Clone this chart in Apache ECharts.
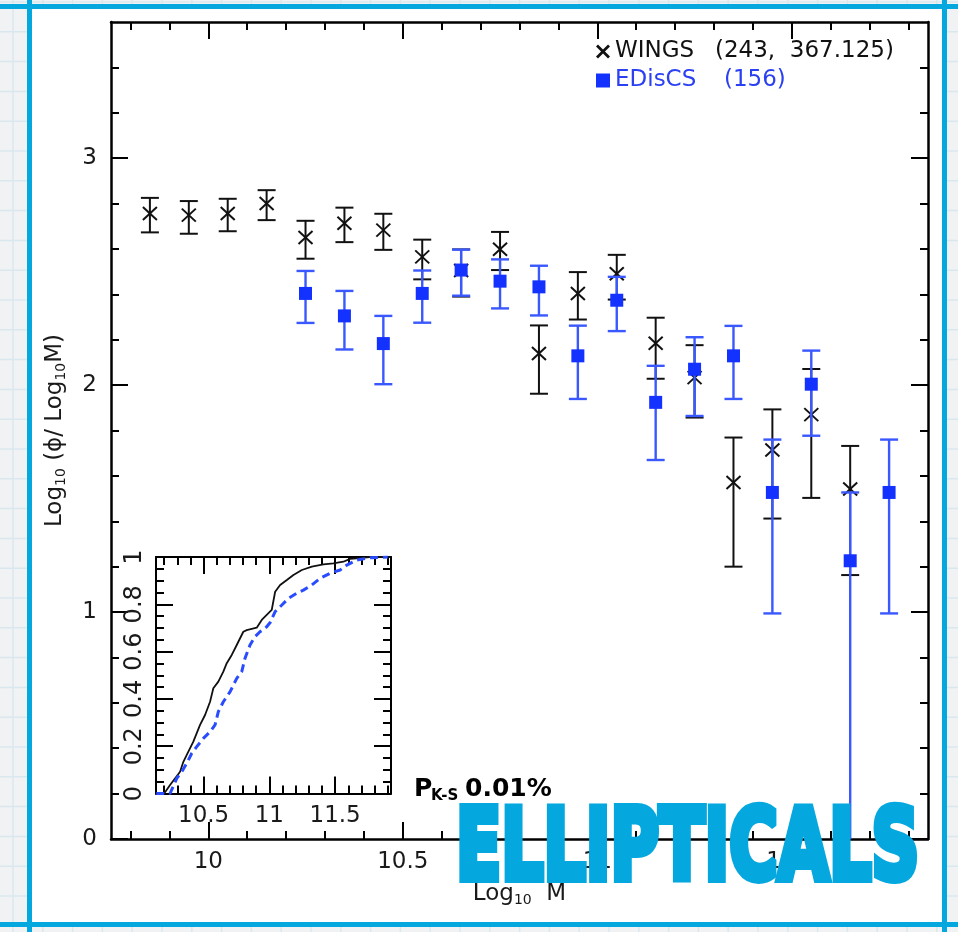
<!DOCTYPE html>
<html><head><meta charset="utf-8">
<script src="https://cdn.jsdelivr.net/npm/echarts@6.0.0/dist/echarts.min.js"></script>
<style>html,body{margin:0;padding:0;background:#fff}#c{width:958px;height:932px}</style>
</head><body><div id="c"></div>
<script>
// ---------------- DATA ----------------
const massBins = [9.85, 9.95, 10.05, 10.15, 10.25, 10.35, 10.45, 10.55, 10.65, 10.75, 10.85, 10.95, 11.05, 11.15, 11.25, 11.35, 11.45, 11.55, 11.65, 11.75];
const wingsPhi = [2.756, 2.749, 2.756, 2.800, 2.650, 2.713, 2.683, 2.565, 2.505, 2.599, 2.139, 2.404, 2.491, 2.184, 2.033, 1.571, 1.714, 1.870, 1.542, null];
const wingsLo  = [2.673, 2.667, 2.678, 2.727, 2.557, 2.630, 2.596, 2.466, 2.390, 2.507, 1.962, 2.289, 2.377, 2.028, 1.857, 1.200, 1.412, 1.503, 1.163, null];
const wingsHi  = [2.825, 2.811, 2.821, 2.859, 2.724, 2.782, 2.755, 2.641, 2.598, 2.675, 2.263, 2.498, 2.574, 2.297, 2.176, 1.769, 1.893, 2.071, 1.732, null];
const edisPhi  = [null, null, null, null, 2.404, 2.305, 2.183, 2.404, 2.507, 2.458, 2.433, 2.129, 2.374, 1.924, 2.070, 2.129, 1.527, 2.004, 1.226, 1.527];
const edisLo   = [null, null, null, null, 2.274, 2.157, 2.004, 2.275, 2.394, 2.338, 2.307, 1.939, 2.238, 1.670, 1.864, 1.939, 0.994, 1.777, null, 0.994];
const edisHi   = [null, null, null, null, 2.503, 2.415, 2.305, 2.505, 2.597, 2.554, 2.526, 2.262, 2.477, 2.085, 2.211, 2.261, 1.760, 2.152, 1.527, 1.760];

// cumulative distributions (inset)
const cdfWingsMass = [10.200, 10.245, 10.321, 10.346, 10.384, 10.422, 10.473, 10.511, 10.549, 10.574, 10.612, 10.650, 10.676, 10.714, 10.752, 10.802, 10.828, 10.904, 10.942, 10.980, 11.018, 11.044, 11.082, 11.133, 11.183, 11.247, 11.323, 11.411, 11.487, 11.563, 11.614, 11.690, 11.760, 11.920];
const cdfWingsFrac = [0.000, 0.036, 0.092, 0.134, 0.177, 0.219, 0.290, 0.332, 0.388, 0.445, 0.473, 0.515, 0.551, 0.586, 0.628, 0.684, 0.691, 0.701, 0.734, 0.755, 0.776, 0.853, 0.882, 0.903, 0.924, 0.945, 0.959, 0.969, 0.973, 0.980, 0.992, 0.995, 1.000, 1.000];
const cdfEdisMass  = [10.140, 10.245, 10.257, 10.296, 10.334, 10.372, 10.410, 10.448, 10.498, 10.549, 10.587, 10.612, 10.650, 10.701, 10.752, 10.790, 10.815, 10.853, 10.891, 10.929, 10.980, 11.006, 11.044, 11.095, 11.145, 11.209, 11.259, 11.323, 11.386, 11.462, 11.538, 11.589, 11.665, 11.766, 11.900];
const cdfEdisFrac  = [0.000, 0.000, 0.015, 0.064, 0.092, 0.128, 0.170, 0.198, 0.233, 0.261, 0.290, 0.346, 0.388, 0.430, 0.487, 0.515, 0.572, 0.628, 0.663, 0.684, 0.705, 0.723, 0.769, 0.797, 0.825, 0.847, 0.860, 0.882, 0.910, 0.931, 0.945, 0.966, 0.987, 0.997, 1.000];

// axes / ticks
const xRange = [9.75, 11.85];
const yRange = [0, 3.6];
const xMajor = [10, 10.5, 11, 11.5];
const xMinor = [9.8, 9.9, 10.1, 10.2, 10.3, 10.4, 10.6, 10.7, 10.8, 10.9, 11.1, 11.2, 11.3, 11.4, 11.6, 11.7, 11.8];
const yMajor = [0, 1, 2, 3];
const yMinor = [0.2, 0.4, 0.6, 0.8, 1.2, 1.4, 1.6, 1.8, 2.2, 2.4, 2.6, 2.8, 3.2, 3.4];
const insetXRange = [10.138, 11.925];
const insetYRange = [0, 1];
const insetXMajor = [10.5, 11, 11.5];
const insetXMinor = [10.2, 10.3, 10.4, 10.6, 10.7, 10.8, 10.9, 11.1, 11.2, 11.3, 11.4, 11.6, 11.7, 11.8, 11.9];
const insetYMajor = [0, 0.2, 0.4, 0.6, 0.8, 1];
const insetYMinor = [0.05, 0.1, 0.15, 0.25, 0.3, 0.35, 0.45, 0.5, 0.55, 0.65, 0.7, 0.75, 0.85, 0.9, 0.95];

const seriesNames = ['WINGS', 'EDisCS'];
const seriesCounts = ['(243,  367.125)', '(156)'];
const ksLabel = ['P', 'K-S', '0.01%'];
const stampText = 'ELLIPTICALS';

// ---------------- STYLE ----------------
const FONT = 'DejaVu Sans';
const BLACK = '#111111';
const BLUE_SQ = '#1432ff';
const BLUE_BAR = '#3a58ff';
const CYAN = '#05a7df';

function rows(phi, lo, hi) {
  const out = [];
  massBins.forEach((m, i) => { if (phi[i] != null) out.push([m, phi[i], lo[i] == null ? NaN : lo[i], hi[i]]); });
  return out;
}

function errRender(kind) {
  return function (params, api) {
    const x = api.value(0), v = api.value(1), lo = api.value(2), hi = api.value(3);
    const c = api.coord([x, v]);
    const hasLo = !isNaN(lo);
    const pLo = api.coord([x, hasLo ? lo : yRange[0]]);
    const pHi = api.coord([x, hi]);
    const col = kind === 'cross' ? BLACK : BLUE_BAR;
    const lw = kind === 'cross' ? 2 : 2.4;
    const cw = 9;
    const ch = [
      { type: 'line', shape: { x1: c[0], y1: pLo[1], x2: c[0], y2: pHi[1] }, style: { stroke: col, lineWidth: lw } },
      { type: 'line', shape: { x1: c[0] - cw, y1: pHi[1], x2: c[0] + cw, y2: pHi[1] }, style: { stroke: col, lineWidth: lw } }
    ];
    if (hasLo) ch.push({ type: 'line', shape: { x1: c[0] - cw, y1: pLo[1], x2: c[0] + cw, y2: pLo[1] }, style: { stroke: col, lineWidth: lw } });
    if (kind === 'cross') {
      ch.push({ type: 'line', shape: { x1: c[0] - 7, y1: c[1] - 6.5, x2: c[0] + 7, y2: c[1] + 6.5 }, style: { stroke: BLACK, lineWidth: 2 } });
      ch.push({ type: 'line', shape: { x1: c[0] - 7, y1: c[1] + 6.5, x2: c[0] + 7, y2: c[1] - 6.5 }, style: { stroke: BLACK, lineWidth: 2 } });
    } else {
      ch.push({ type: 'rect', shape: { x: c[0] - 6.5, y: c[1] - 6.5, width: 13, height: 13 }, style: { fill: BLUE_SQ } });
    }
    return { type: 'group', children: ch };
  };
}

function mkAxis(o) {
  return {
    type: 'value', gridIndex: o.grid, position: o.pos, min: o.range[0], max: o.range[1],
    axisLine: { show: !!o.line, onZero: false, lineStyle: { color: '#000', width: o.lw || 2.5 } },
    axisTick: { show: true, inside: true, length: o.len, customValues: o.ticks, lineStyle: { color: '#000', width: 2 } },
    axisLabel: o.labels ? Object.assign({ show: true, customValues: o.labels, color: '#1a1a1a', fontFamily: FONT }, o.labelStyle) : { show: false },
    splitLine: { show: false }, minorTick: { show: false }, minorSplitLine: { show: false },
    ...(o.extra || {})
  };
}

const subRich = {
  t: { fontFamily: FONT, fontSize: 23, color: '#1a1a1a', lineHeight: 26 },
  s: { fontFamily: FONT, fontSize: 14, color: '#1a1a1a', lineHeight: 9, verticalAlign: 'bottom' }
};

const xAxes = [
  mkAxis({ grid: 0, pos: 'bottom', range: xRange, line: true, len: 17, ticks: xMajor, labels: xMajor,
    labelStyle: { fontSize: 23, margin: 12 },
    extra: { name: '{t|Log}{s|10}{t|  M}', nameLocation: 'middle', nameGap: 42, nameTextStyle: { fontSize: 23, rich: subRich } } }),
  mkAxis({ grid: 0, pos: 'bottom', range: xRange, line: false, len: 8, ticks: xMinor }),
  mkAxis({ grid: 0, pos: 'top', range: xRange, line: true, len: 17, ticks: xMajor }),
  mkAxis({ grid: 0, pos: 'top', range: xRange, line: false, len: 8, ticks: xMinor }),
  mkAxis({ grid: 1, pos: 'bottom', range: insetXRange, line: true, lw: 2, len: 17, ticks: insetXMajor, labels: insetXMajor,
    labelStyle: { fontSize: 23, margin: 11 } }),
  mkAxis({ grid: 1, pos: 'bottom', range: insetXRange, line: false, len: 8, ticks: insetXMinor }),
  mkAxis({ grid: 1, pos: 'top', range: insetXRange, line: true, lw: 2, len: 17, ticks: insetXMajor }),
  mkAxis({ grid: 1, pos: 'top', range: insetXRange, line: false, len: 8, ticks: insetXMinor })
];
const yAxes = [
  mkAxis({ grid: 0, pos: 'left', range: yRange, line: true, len: 17, ticks: yMajor, labels: yMajor,
    labelStyle: { fontSize: 23, margin: 14 },
    extra: { name: '{t|Log}{s|10}{t| (ϕ/ Log}{s|10}{t|M)}', nameLocation: 'middle', nameGap: 43, nameTextStyle: { fontSize: 23, rich: subRich } } }),
  mkAxis({ grid: 0, pos: 'left', range: yRange, line: false, len: 8, ticks: yMinor }),
  mkAxis({ grid: 0, pos: 'right', range: yRange, line: true, len: 17, ticks: yMajor }),
  mkAxis({ grid: 0, pos: 'right', range: yRange, line: false, len: 8, ticks: yMinor }),
  mkAxis({ grid: 1, pos: 'left', range: insetYRange, line: true, lw: 2, len: 17, ticks: insetYMajor, labels: insetYMajor,
    labelStyle: { fontSize: 24, margin: 9, rotate: 90 } }),
  mkAxis({ grid: 1, pos: 'left', range: insetYRange, line: false, len: 8, ticks: insetYMinor }),
  mkAxis({ grid: 1, pos: 'right', range: insetYRange, line: true, lw: 2, len: 17, ticks: insetYMajor }),
  mkAxis({ grid: 1, pos: 'right', range: insetYRange, line: false, len: 8, ticks: insetYMinor })
];

// ---------------- DECORATION ----------------
const deco = [];
deco.push({ type: 'rect', shape: { x: 0, y: 0, width: 958, height: 932 }, style: { fill: '#f1f2f3' }, z: -100, silent: true });
for (let y = 2; y < 932; y += 29.8) deco.push({ type: 'line', shape: { x1: 0, y1: y, x2: 958, y2: y }, style: { stroke: '#d9e8ef', lineWidth: 1.5 }, z: -99, silent: true });
for (let x = 13; x < 958; x += 29.8) deco.push({ type: 'line', shape: { x1: x, y1: 0, x2: x, y2: 932 }, style: { stroke: '#d9e8ef', lineWidth: 1.5 }, z: -99, silent: true });
deco.push({ type: 'rect', shape: { x: 32, y: 9, width: 910, height: 913 }, style: { fill: '#ffffff' }, z: -98, silent: true });
deco.push({ type: 'rect', shape: { x: 0, y: 4, width: 958, height: 5 }, style: { fill: CYAN }, z: -97, silent: true });
deco.push({ type: 'rect', shape: { x: 0, y: 922, width: 958, height: 5 }, style: { fill: CYAN }, z: -97, silent: true });
deco.push({ type: 'rect', shape: { x: 27, y: 0, width: 5, height: 932 }, style: { fill: CYAN }, z: -97, silent: true });
deco.push({ type: 'rect', shape: { x: 942, y: 0, width: 5, height: 932 }, style: { fill: CYAN }, z: -97, silent: true });
// K-S annotation
deco.push({ type: 'text', x: 414, y: 789.5, z: 50, style: { text: ksLabel[0], font: 'bold 25px "DejaVu Sans"', fill: '#000', verticalAlign: 'middle' } });
deco.push({ type: 'text', x: 431, y: 796, z: 50, style: { text: ksLabel[1], font: 'bold 15px "DejaVu Sans"', fill: '#000', verticalAlign: 'middle' } });
deco.push({ type: 'text', x: 465, y: 789.5, z: 50, style: { text: ksLabel[2], font: 'bold 25px "DejaVu Sans"', fill: '#000', verticalAlign: 'middle' } });
// stamp
deco.push({ type: 'text', x: 456, y: 854, scaleX: 0.677, z: 100, style: { text: stampText, font: 'bold 98px "DejaVu Sans"', fill: CYAN, stroke: CYAN, lineWidth: 8, lineJoin: 'round', verticalAlign: 'middle', align: 'left' } });

const CROSS = 'path://M0,1.4L1.4,0L5,3.6L8.6,0L10,1.4L6.4,5L10,8.6L8.6,10L5,6.4L1.4,10L0,8.6L3.6,5Z';

const chart = echarts.init(document.getElementById('c'), null, { renderer: 'canvas' });
chart.setOption({
  animation: false,
  backgroundColor: 'transparent',
  grid: [
    { left: 111, top: 22, right: 30, bottom: 93, outerBoundsMode: 'none', containLabel: false },
    { left: 156, top: 557, width: 235, height: 236.5, show: true, backgroundColor: '#fff', borderWidth: 0, outerBoundsMode: 'none', containLabel: false }
  ],
  xAxis: xAxes,
  yAxis: yAxes,
  legend: {
    orient: 'vertical', left: 596, top: 40, itemWidth: 14, itemHeight: 14, itemGap: 6, padding: 0,
    selectedMode: false,
    data: [
      { name: seriesNames[0], icon: CROSS, itemStyle: { color: BLACK } },
      { name: seriesNames[1], icon: 'rect', itemStyle: { color: BLUE_SQ } }
    ],
    formatter: function (n) {
      return n === seriesNames[0] ? '{w1|' + n + '}{w2|' + seriesCounts[0] + '}' : '{e1|' + n + '}{e2|' + seriesCounts[1] + '}';
    },
    textStyle: {
      fontFamily: FONT, fontSize: 23,
      rich: {
        w1: { fontFamily: FONT, fontSize: 23, color: BLACK, width: 100 },
        w2: { fontFamily: FONT, fontSize: 23, color: BLACK },
        e1: { fontFamily: FONT, fontSize: 23, color: '#2a40f2', width: 109 },
        e2: { fontFamily: FONT, fontSize: 23, color: '#2a40f2' }
      }
    }
  },
  graphic: { elements: deco },
  series: [
    { name: seriesNames[0], type: 'custom', xAxisIndex: 0, yAxisIndex: 0, z: 2, itemStyle: { color: BLACK },
      encode: { x: 0, y: [1, 2, 3] }, data: rows(wingsPhi, wingsLo, wingsHi), renderItem: errRender('cross') },
    { name: seriesNames[1], type: 'custom', xAxisIndex: 0, yAxisIndex: 0, z: 3, itemStyle: { color: BLUE_SQ },
      encode: { x: 0, y: [1, 2, 3] }, data: rows(edisPhi, edisLo, edisHi), renderItem: errRender('square') },
    { name: 'WINGS CDF', type: 'line', xAxisIndex: 4, yAxisIndex: 4, showSymbol: false, symbol: 'none', z: 4,
      lineStyle: { color: BLACK, width: 1.8 }, data: cdfWingsMass.map((m, i) => [m, cdfWingsFrac[i]]) },
    { name: 'EDisCS CDF', type: 'line', xAxisIndex: 4, yAxisIndex: 4, showSymbol: false, symbol: 'none', z: 5,
      lineStyle: { color: '#2a4cff', width: 3, type: [8, 5] }, data: cdfEdisMass.map((m, i) => [m, cdfEdisFrac[i]]) }
  ]
});
</script>
</body></html>
